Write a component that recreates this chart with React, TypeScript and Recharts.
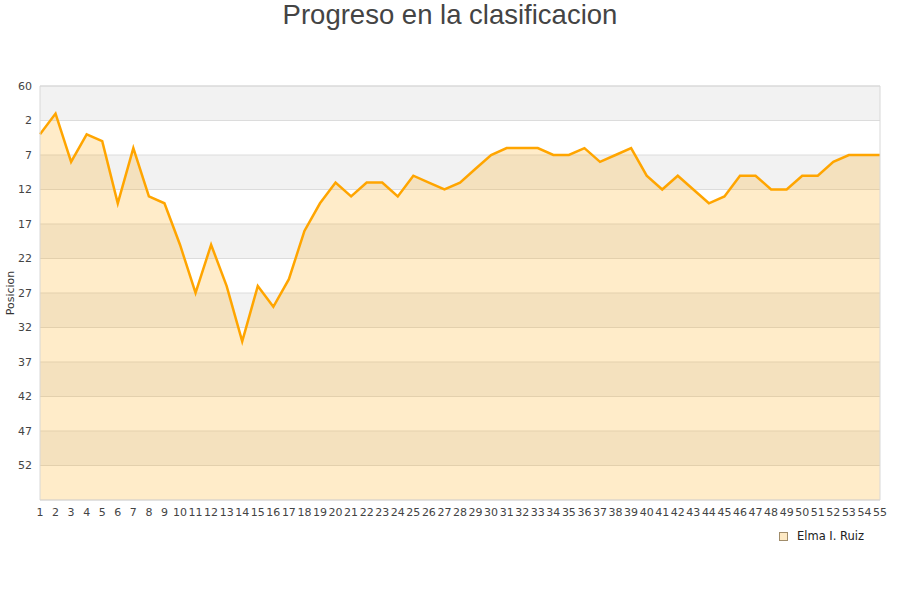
import React from 'react';
import {
  AreaChart,
  Area,
  XAxis,
  YAxis,
  CartesianGrid,
  ReferenceArea,
  Legend,
} from 'recharts';

const laps: number[] = Array.from({ length: 55 }, (_, i) => i + 1);
const positions: number[] = [
  4, 1, 8, 4, 5, 14, 6, 13, 14, 20,
  27, 20, 26, 34, 26, 29, 25, 18, 14, 11,
  13, 11, 11, 13, 10, 11, 12, 11, 9, 7,
  6, 6, 6, 7, 7, 6, 8, 7, 6, 10,
  12, 10, 12, 14, 13, 10, 10, 12, 12, 10,
  10, 8, 7, 7, 7,
];
const yTickValues: number[] = [-3, 2, 7, 12, 17, 22, 27, 32, 37, 42, 47, 52];
const yTickLabels: string[] = ['60', '2', '7', '12', '17', '22', '27', '32', '37', '42', '47', '52'];
const yDomain: [number, number] = [-3, 57];
const seriesName = 'Elma I. Ruiz';
const title = 'Progreso en la clasificacion';

const data = laps.map((lap, i) => ({ lap: String(lap), pos: positions[i] }));

const LegendContent = () => (
  <div
    style={{
      display: 'flex',
      alignItems: 'center',
      fontFamily: 'DejaVu Sans, sans-serif',
      fontSize: 11.5,
      color: '#222',
      whiteSpace: 'nowrap',
    }}
  >
    <span
      style={{
        display: 'inline-block',
        width: 7,
        height: 7,
        background: '#fde9c4',
        border: '1px solid #a08c6a',
        marginRight: 9,
      }}
    />
    <span>{seriesName}</span>
  </div>
);

export default function App() {
  return (
    <div style={{ position: 'absolute', left: 0, top: 0, width: 900, height: 600, background: '#fff' }}>
      <div
        style={{
          position: 'absolute',
          top: -1,
          left: 0,
          width: 900,
          textAlign: 'center',
          fontFamily: '"Liberation Sans", Arial, sans-serif',
          fontSize: 27.5,
          color: '#444',
        }}
      >
        {title}
      </div>
      <AreaChart
        width={900}
        height={600}
        data={data}
        margin={{ top: 86, right: 20, bottom: 70, left: 0 }}
      >
        <CartesianGrid
          vertical={false}
          stroke="#dcdcdc"
          horizontalFill={['#f2f2f2', '#ffffff']}
          fillOpacity={1}
        />
        <XAxis
          dataKey="lap"
          interval={0}
          tickLine={false}
          axisLine={false}
          tickSize={4}
          tickMargin={4}
          height={30}
          tick={{ fontSize: 11, fill: '#444', fontFamily: 'DejaVu Sans, sans-serif' }}
        />
        <YAxis
          type="number"
          reversed
          domain={yDomain}
          ticks={yTickValues}
          interval={0}
          allowDataOverflow
          width={40}
          tickLine={false}
          axisLine={false}
          tickSize={6}
          tickMargin={2}
          tickFormatter={(v: number) => {
            const idx = yTickValues.indexOf(v);
            return idx >= 0 ? yTickLabels[idx] : String(v);
          }}
          tick={{ fontSize: 11, fill: '#444', fontFamily: 'DejaVu Sans, sans-serif' }}
          label={{
            value: 'Posicion',
            angle: -90,
            position: 'center',
            dx: -10,
            style: { fontSize: 11, fill: '#333', fontFamily: 'DejaVu Sans, sans-serif', textAnchor: 'middle' },
          }}
        />
        <Area
          type="linear"
          dataKey="pos"
          name={seriesName}
          stroke="#ffa500"
          strokeWidth={2.5}
          fill="#ffa500"
          fillOpacity={0.21}
          baseValue="dataMax"
          dot={false}
          activeDot={false}
          isAnimationActive={false}
        />
        <ReferenceArea
          y1={yDomain[0]}
          y2={yDomain[1]}
          fill="none"
          stroke="#d8d8d8"
          strokeWidth={1}
          ifOverflow="visible"
        />
        <Legend
          layout="horizontal"
          verticalAlign="middle"
          align="center"
          content={LegendContent}
          wrapperStyle={{ left: 779, top: 529, width: 'auto', height: 'auto', bottom: 'auto' }}
        />
      </AreaChart>
    </div>
  );
}
